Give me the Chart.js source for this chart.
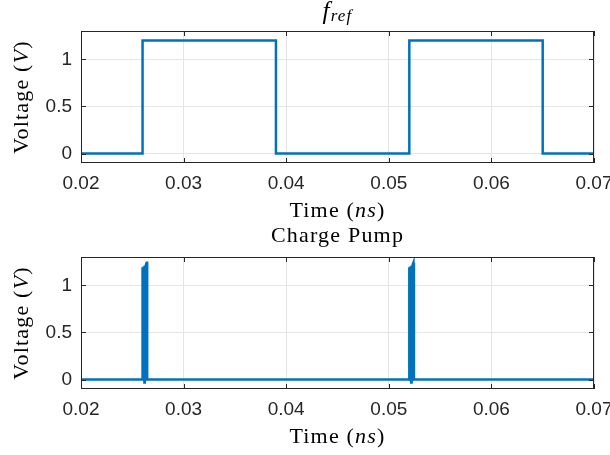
<!DOCTYPE html>
<html lang="en">
<head>
<meta charset="UTF-8">
<title>f_ref / Charge Pump</title>
<script src="https://cdn.jsdelivr.net/npm/chart.js"></script>
<style>
  html, body { margin: 0; padding: 0; background: #fff; }
  .plot { position: absolute; left: 0; width: 610px; }
  #top { top: 0; height: 222px; }
  #bottom { top: 222px; height: 233px; }
</style>
</head>
<body>
<div class="plot" id="top"><canvas id="refChart" width="610" height="222"></canvas></div>
<div class="plot" id="bottom"><canvas id="cpChart" width="610" height="233"></canvas></div>
<script>
// data (time in ns, voltage in V)
const refTime = [0.02, 0.0260, 0.0260, 0.0390, 0.0390, 0.0520, 0.0520, 0.0650, 0.0650, 0.07];
const refVolt = [0, 0, 1.2, 1.2, 0, 0, 1.2, 1.2, 0, 0];

// charge pump output: short bursts right after each reference edge
const cpTime = [0.02, 0.02600, 0.02600, 0.02607, 0.02611, 0.02618, 0.02622, 0.02629, 0.02633, 0.02640, 0.02645, 0.02645, 0.07];
const cpVolt = [0, 0, 1.19, 0, 1.2, -0.03, 1.21, 0, 1.22, 1.24, 1.24, 0, 0];
const cpTime2 = [0.05200, 0.05200, 0.05207, 0.05211, 0.05218, 0.05222, 0.05229, 0.05233, 0.05240, 0.05245, 0.05245];
const cpVolt2 = [0, 1.19, 0, 1.2, -0.03, 1.21, 0, 1.22, 1.24, 1.24, 0];

const xTicks = [0.02, 0.03, 0.04, 0.05, 0.06, 0.07];
const yTicks = [0, 0.5, 1];

const lineColor = '#0072BD';
const axisColor = '#262626';
const tickFont = { family: 'Liberation Sans', size: 19 };
const serif = 'Liberation Serif';

// draw a string made of plain / italic pieces, centred at x,y
function richText(ctx, parts, x, y, size) {
    let w = 0;
    ctx.letterSpacing = '1.2px';
    parts.forEach(p => {
        ctx.font = (p.i ? 'italic ' : '') + (p.s || size) + 'px "' + serif + '"';
        p.w = ctx.measureText(p.t).width;
        w += p.w;
    });
    let cx = x - w / 2;
    ctx.textBaseline = 'middle';
    ctx.textAlign = 'left';
    parts.forEach(p => {
        ctx.font = (p.i ? 'italic ' : '') + (p.s || size) + 'px "' + serif + '"';
        ctx.fillText(p.t, cx, y + (p.dy || 0));
        cx += p.w;
    });
}

const boxPlugin = {
    id: 'box',
    afterDatasetsDraw(chart) {
        const { ctx, chartArea: a, scales } = chart;
        ctx.save();
        ctx.strokeStyle = axisColor;
        ctx.lineWidth = 1;
        ctx.strokeRect(a.left + 0.5, a.top + 0.5, a.right - a.left - 1, a.bottom - a.top - 1);
        ctx.beginPath();
        xTicks.forEach(v => {
            const px = Math.round(scales.x.getPixelForValue(v)) + 0.5;
            ctx.moveTo(px, a.top); ctx.lineTo(px, a.top + 5);
            ctx.moveTo(px, a.bottom); ctx.lineTo(px, a.bottom - 5);
        });
        yTicks.forEach(v => {
            const py = Math.round(scales.y.getPixelForValue(v)) + 0.5;
            ctx.moveTo(a.left, py); ctx.lineTo(a.left + 5, py);
            ctx.moveTo(a.right, py); ctx.lineTo(a.right - 5, py);
        });
        ctx.stroke();
        ctx.restore();
    },
    afterDraw(chart, args, opts) {
        const { ctx, chartArea: a } = chart;
        const midX = (a.left + a.right) / 2;
        ctx.save();
        ctx.fillStyle = '#000';
        richText(ctx, opts.title, midX, opts.titleY, 22);
        richText(ctx, [{ t: 'Time (' }, { t: 'ns', i: true }, { t: ')' }], midX, a.bottom + 48, 22);
        ctx.translate(22, (a.top + a.bottom) / 2);
        ctx.rotate(-Math.PI / 2);
        richText(ctx, [{ t: 'Voltage (' }, { t: 'V', i: true }, { t: ')' }], 0, 0, 22);
        ctx.restore();
    }
};

function makeChart(id, series, topPad, bottomH, title, titleY) {
    return new Chart(document.getElementById(id), {
        type: 'scatter',
        data: {
            datasets: series.map(s => ({
                data: s[0].map((x, i) => ({ x: x, y: s[1][i] })),
                showLine: true,
                borderColor: lineColor,
                borderWidth: 2.5,
                borderJoinStyle: 'miter',
                pointRadius: 0,
                tension: 0
            }))
        },
        options: {
            responsive: false,
            animation: false,
            layout: { padding: { top: topPad, right: 16, left: 0, bottom: 0 } },
            plugins: {
                legend: { display: false },
                tooltip: { enabled: false },
                box: { title: title, titleY: titleY }
            },
            scales: {
                x: {
                    type: 'linear',
                    min: 0.02,
                    max: 0.07,
                    afterBuildTicks: s => { s.ticks = xTicks.map(v => ({ value: v })); },
                    afterFit: s => { s.height = bottomH; s.paddingLeft = 0; s.paddingRight = 0; },
                    grid: { color: '#e5e5e5', drawTicks: false },
                    border: { display: false },
                    ticks: { font: tickFont, color: axisColor, padding: 9, maxRotation: 0,
                             callback: v => v.toFixed(2) }
                },
                y: {
                    min: -0.1,
                    max: 1.3,
                    afterBuildTicks: s => { s.ticks = yTicks.map(v => ({ value: v })); },
                    afterFit: s => { s.width = 81; s.paddingTop = 0; s.paddingBottom = 0; },
                    grid: { color: '#e5e5e5', drawTicks: false },
                    border: { display: false },
                    ticks: { font: tickFont, color: axisColor, padding: 9,
                             callback: v => String(v) }
                }
            }
        },
        plugins: [boxPlugin]
    });
}

makeChart('refChart', [[refTime, refVolt]], 31, 59,
    [{ t: 'f', i: true, s: 25 }, { t: 'ref', i: true, s: 17, dy: 5 }], 12);
makeChart('cpChart', [[cpTime, cpVolt], [cpTime2, cpVolt2]], 35, 66,
    [{ t: 'Charge Pump' }], 14);
</script>
</body>
</html>
